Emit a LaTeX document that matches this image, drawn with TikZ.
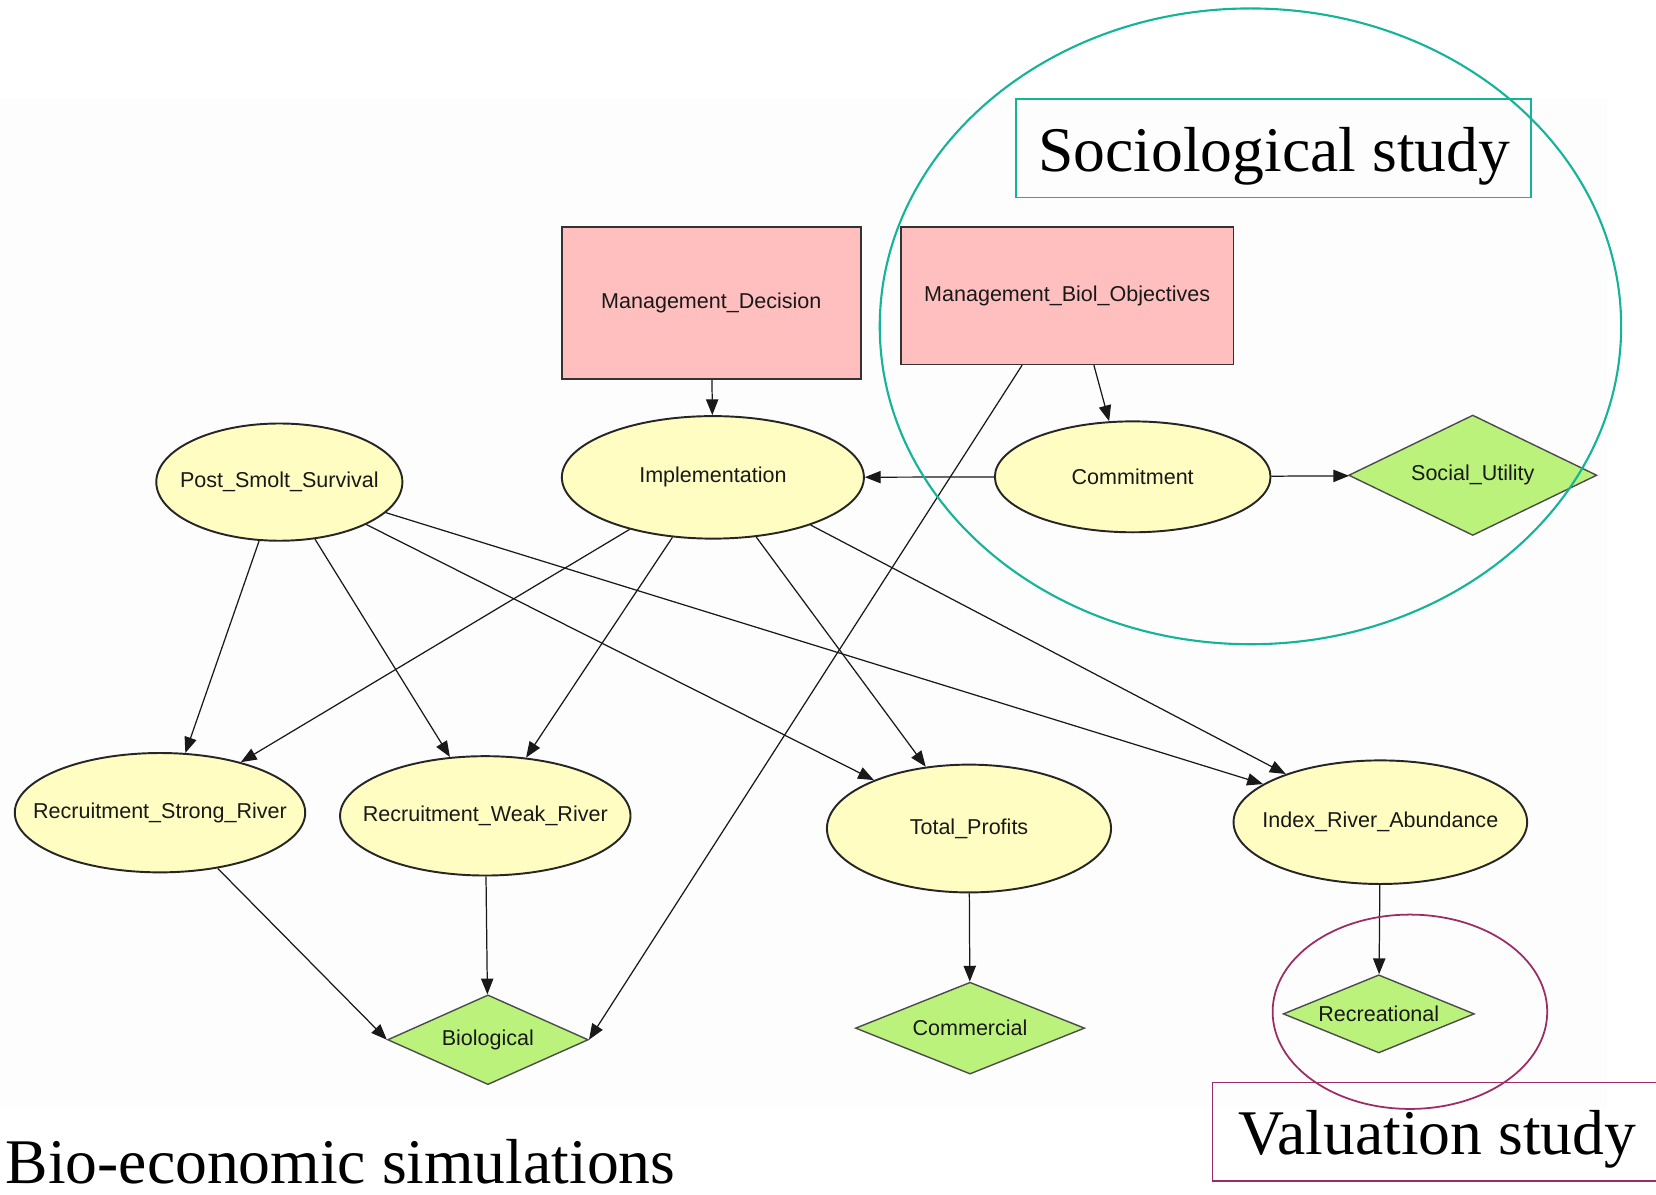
\documentclass[tikz,border=0pt]{standalone}
\usepackage{fontspec}
\setmainfont{Liberation Serif}
\newfontfamily\nodefont{Liberation Sans}
\usetikzlibrary{shapes.geometric,arrows.meta}
\definecolor{decfill}{HTML}{FFBFBF}
\definecolor{chfill}{HTML}{FFFDC2}
\definecolor{utfill}{HTML}{BBF27C}
\definecolor{sociocol}{HTML}{14B498}
\definecolor{valcol}{HTML}{9B2C64}
\definecolor{bgcol}{HTML}{FDFDFD}
\def\px{0.0211222cm}
\tikzset{
  dim/.style 2 args={minimum width=#1*\px, minimum height=#2*\px},
  nodetxt/.style={font=\nodefont\fontsize{12.25}{14}\selectfont, text=black!90},
  decnode/.style={rectangle, draw=black!80, line width=0.9pt, fill=decfill, inner sep=0pt, nodetxt},
  chnode/.style={ellipse, draw=black!85, line width=1.1pt, fill=chfill, inner sep=0pt, nodetxt},
  utnode/.style={diamond, aspect=2.5, draw=black!70, line width=0.8pt, fill=utfill, inner sep=0pt, nodetxt},
  link/.style={draw=black!90, line width=0.7pt, -{Triangle[length=9pt,width=7pt]}},
  bigtext/.style={font=\fontsize{36.2}{40}\selectfont, inner sep=0pt},
  region/.style={ellipse, inner sep=0pt, fill=none}
}
\begin{document}
\begin{tikzpicture}[x=\px, y=-\px]
\useasboundingbox (0,0) rectangle (1568,1131);
\fill[bgcol] (0,93) rectangle (1522,1050);

% nodes
\node[decnode, dim={283}{144}] (md) at (673.5,287) {Management\_Decision};
\node[decnode, dim={315}{130}] (mb) at (1010.5,280) {Management\_Biol\_Objectives};
\node[chnode, dim={233}{111}] (ps) at (264.5,456.5) {\makebox[0pt]{Post\_Smolt\_Survival}};
\node[chnode, dim={286}{116}] (im) at (675,452) {\makebox[0pt]{Implementation}};
\node[chnode, dim={261}{105}] (cm) at (1072.5,451.5) {\makebox[0pt]{Commitment}};
\node[utnode, dim={235}{114}] (su) at (1394.5,450) {Social\_Utility};
\node[chnode, dim={275}{113}] (rs) at (151.5,769.5) {\makebox[0pt]{Recruitment\_Strong\_River}};
\node[chnode, dim={275}{113}] (rw) at (459.5,772.5) {\makebox[0pt]{Recruitment\_Weak\_River}};
\node[chnode, dim={269}{121}] (tp) at (917.5,784.5) {\makebox[0pt]{Total\_Profits}};
\node[chnode, dim={278}{117}] (ir) at (1307,778.5) {\makebox[0pt]{Index\_River\_Abundance}};
\node[utnode, dim={190}{85}] (bi) at (462,984.5) {Biological};
\node[utnode, dim={217}{87}] (co) at (918.5,973.5) {Commercial};
\node[utnode, dim={181}{74}] (re) at (1305.5,960) {Recreational};

% connectors
\draw[link] (md) -- (im);
\draw[link] (mb.-69.9) -- (cm.113.2);
\draw[link] (mb.237) -- (bi.east);
\draw[link] (cm) -- (im);
\draw[link] (cm) -- (su);
\draw[link] (ps.-109.4) -- (rs.67.4);
\draw[link] (ps.-58.4) -- (rw.121.9);
\draw[link] (ps.-26.7) -- (tp.153.6);
\draw[link] (ps.-16.9) -- (ir.162.9);
\draw[link] (im.-148) -- (rs.32.4);
\draw[link] (im.-124.4) -- (rw.55.5);
\draw[link] (im.-54.3) -- (tp.125.5);
\draw[link] (im.-26.6) -- (ir.153.2);
\draw[link] (rs.-44.5) -- (bi.west);
\draw[link] (rw) -- (bi);
\draw[link] (tp) -- (co);
\draw[link] (ir) -- (re);

% annotations
\node[region, draw=sociocol, line width=1.2pt, dim={702}{602}] (socreg) at (1184,309) {};
\node[rectangle, draw=sociocol, line width=1.1pt, inner sep=0pt, dim={488}{93}] (socbox) at (1206,140.5) {};
\node[bigtext, anchor=base] (soctext) at (1206.5,162.5) {Sociological study};

\node[region, draw=valcol, line width=1pt, dim={260}{184}] (valreg) at (1335,958) {};
\draw[valcol, line width=1pt] (1575,1025) -| (1148,1118) -- (1575,1118);
\node[bigtext, anchor=base] (valtext) at (1361,1093) {Valuation study};

\node[bigtext, anchor=base west] (biotext) at (5,1121) {Bio-economic simulations};
\end{tikzpicture}
\end{document}
